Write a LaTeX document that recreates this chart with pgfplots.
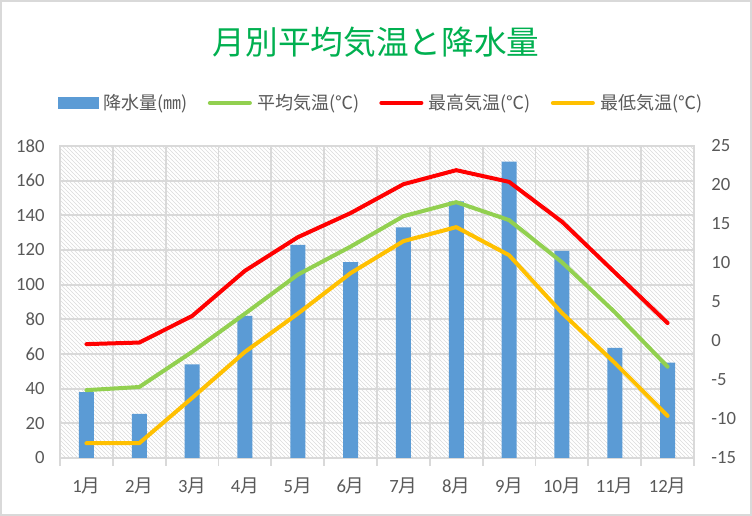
\documentclass[border=0pt]{standalone}
\usepackage{pgfplots}
\pgfplotsset{compat=1.18}
\usepackage{pgfplotstable}
\usetikzlibrary{patterns}
\usepackage{fontspec}
\setmainfont{Carlito}
\newfontfamily\cjk{Noto Sans CJK JP}
\definecolor{barblue}{HTML}{5B9BD5}
\definecolor{lgreen}{HTML}{92D050}
\definecolor{lred}{HTML}{FF0000}
\definecolor{lyellow}{HTML}{FFC000}
\definecolor{txt}{HTML}{595959}
\definecolor{gridc}{HTML}{D9D9D9}
\definecolor{titleg}{HTML}{00B050}

\pgfplotstableread{
x rain
0 38
1 25.5
2 54
3 82
4 123
5 113
6 133
7 148
8 171
9 119.5
10 63.5
11 55
}\raindata

\pgfplotstableread{
x avg max min
0 -6.3 -0.4 -13.1
1 -5.9 -0.2 -13.1
2 -1.4 3.2 -7.3
3 3.5 9.0 -1.4
4 8.5 13.3 3.5
5 12.1 16.4 8.7
6 16.0 20.1 12.8
7 17.8 21.9 14.6
8 15.5 20.4 11.0
9 10.1 15.3 3.6
10 3.7 8.8 -2.8
11 -3.3 2.3 -9.6
}\tempdata

\begin{document}
\begin{tikzpicture}[x=1pt,y=1pt]
\draw[gridc, line width=1.5pt, fill=white] (0.75,0.75) rectangle (563.25,386.25);
\node[font=\cjk\fontsize{24.5}{28}\selectfont, text=titleg] at (282,355.5) {月別平均気温と降水量};
\begin{axis}[
  at={(45pt,43.5pt)}, anchor=south west, scale only axis,
  width=475.5pt, height=234pt,
  xmin=-0.5, xmax=11.5, ymin=0, ymax=180,
  ytick={0,20,...,180},
  xtick={0,...,11},
  xticklabels={1{\cjk 月},2{\cjk 月},3{\cjk 月},4{\cjk 月},5{\cjk 月},6{\cjk 月},7{\cjk 月},8{\cjk 月},9{\cjk 月},10{\cjk 月},11{\cjk 月},12{\cjk 月}},
  minor xtick={-0.5,0.5,...,11.5},
  xminorgrids, ymajorgrids,
  grid style={gridc, line width=1.3pt},
  minor grid style={gridc, line width=1.3pt},
  axis line style={gridc, line width=1.3pt},
  major tick length=0pt, minor tick length=6pt, tick align=outside,
  xtick pos=bottom, ytick pos=left,
  minor tick style={gridc, line width=1.3pt},
  major tick style={draw=none},
  axis background/.style={pattern=north west lines, pattern color=black!14},
  ticklabel style={font=\fontsize{14}{16}\selectfont, text=txt},
  /pgf/number format/assume math mode=true,
  xticklabel style={yshift=-11pt},
  yticklabel style={xshift=-8pt},
]
\addplot[ybar, bar width=11.25pt, fill=barblue, draw=none] table[x=x,y=rain]{\raindata};
\end{axis}
\begin{axis}[
  at={(45pt,43.5pt)}, anchor=south west, scale only axis,
  width=475.5pt, height=234pt,
  xmin=-0.5, xmax=11.5, ymin=-15, ymax=25,
  ytick={-15,-10,...,25},
  axis x line=none, axis y line*=right,
  axis line style={draw=none},
  major tick length=0pt, major tick style={draw=none},
  ticklabel style={font=\fontsize{14}{16}\selectfont, text=txt},
  /pgf/number format/assume math mode=true,
  yticklabel style={xshift=9.5pt, anchor=west},
  legend style={at={(0.507,1.138)}, anchor=center, draw=none, fill=none,
    legend columns=4, font=\cjk\fontsize{13.5}{16}\selectfont, text=txt,
    /tikz/every even column/.append style={column sep=13pt},
    /tikz/every odd column/.append style={column sep=2pt}},
  legend cell align=left,
  legend image code/.code={\draw[#1] (0pt,0pt) -- (30pt,0pt);},
]
\addlegendimage{legend image code/.code={\fill[barblue] (0pt,-4pt) rectangle (30pt,4pt);}}
\addlegendentry{降水量(㎜)}
\addplot[lgreen, line width=3pt, line cap=round, line join=round] table[x=x,y=avg]{\tempdata};
\addlegendentry{平均気温(℃)}
\addplot[lred, line width=3pt, line cap=round, line join=round] table[x=x,y=max]{\tempdata};
\addlegendentry{最高気温(℃)}
\addplot[lyellow, line width=3pt, line cap=round, line join=round] table[x=x,y=min]{\tempdata};
\addlegendentry{最低気温(℃)}
\end{axis}
\end{tikzpicture}
\end{document}
